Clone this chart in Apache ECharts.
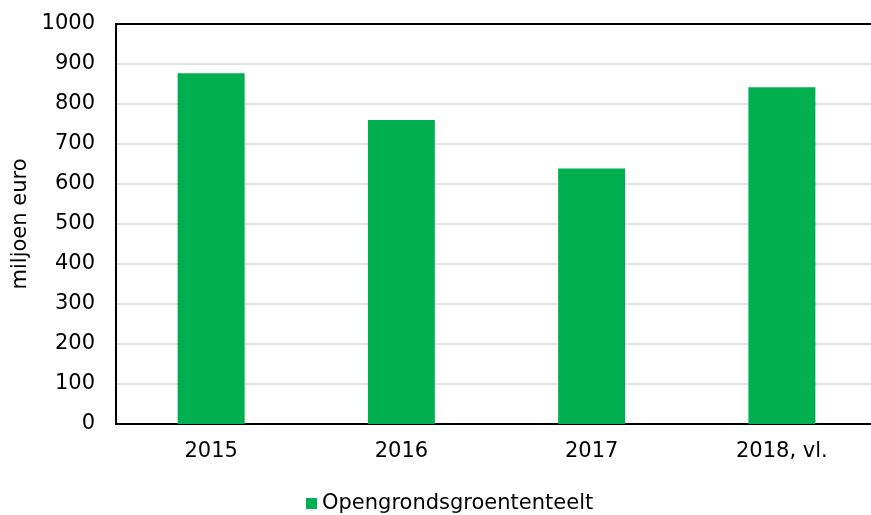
<!DOCTYPE html>
<html>
<head>
<meta charset="utf-8">
<script src="https://cdn.jsdelivr.net/npm/echarts@6/dist/echarts.min.js"></script>
<style>
  html, body { margin: 0; padding: 0; background: #fff; }
  #chart { width: 871px; height: 515px; }
</style>
</head>
<body>
<div id="chart"></div>
<script>
// data
const years = ['2015', '2016', '2017', '2018, vl.'];
const values = [877, 760, 639, 842];
const seriesName = 'Opengrondsgroententeelt';

const font = 'DejaVu Sans';
const chart = echarts.init(document.getElementById('chart'));

let option = {
  animation: false,
  textStyle: { fontFamily: font },
  grid: {
    left: 116,
    top: 24,
    width: 761,
    height: 400,
    containLabel: false,
    outerBoundsMode: 'none'
  },
  legend: {
    left: 301,
    top: 488,
    icon: 'rect',
    itemWidth: 11,
    itemHeight: 11,
    textStyle: {
      fontFamily: font,
      fontSize: 21,
      color: '#000'
    },
    data: [seriesName]
  },
  xAxis: [{
    type: 'category',
    data: years,
    axisLine: { lineStyle: { color: '#000', width: 2 } },
    axisTick: { show: false },
    axisLabel: {
      color: '#000',
      fontSize: 21,
      margin: 17,
      fontFamily: font
    }
  }, {
    // top border line
    type: 'category',
    position: 'top',
    data: years,
    axisLine: { lineStyle: { color: '#000', width: 2 } },
    axisTick: { show: false },
    axisLabel: { show: false }
  }],
  yAxis: {
    type: 'value',
    min: 0,
    max: 1000,
    interval: 100,
    name: 'miljoen euro',
    nameLocation: 'middle',
    nameGap: 83,
    nameTextStyle: {
      color: '#000',
      fontSize: 21,
      fontFamily: font
    },
    axisLine: { show: true, lineStyle: { color: '#000', width: 2 } },
    axisTick: { show: false },
    axisLabel: {
      color: '#000',
      fontSize: 21,
      margin: 21,
      fontFamily: font,
      formatter: function (value) {
        return String(value);
      }
    },
    splitLine: { lineStyle: { color: '#d9d9d9', width: 1.5 } }
  },
  series: [{
    name: seriesName,
    type: 'bar',
    data: values,
    barWidth: 67,
    itemStyle: { color: '#00b050' }
  }]
};

chart.setOption(option);
</script>
</body>
</html>
